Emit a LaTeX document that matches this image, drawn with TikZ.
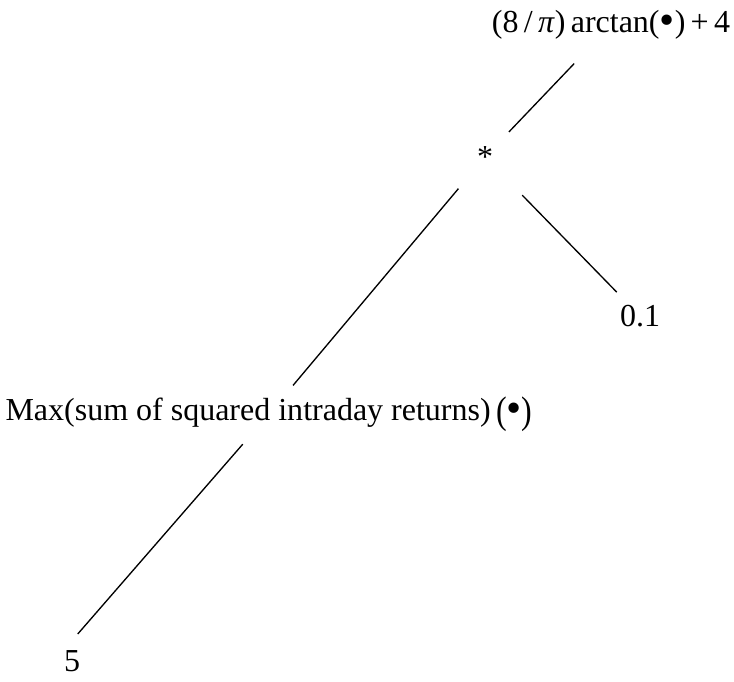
\documentclass[tikz,border=0pt]{standalone}
\usepackage{fontspec}
\setmainfont{Liberation Serif}
\usepackage{graphicx}
\usetikzlibrary{positioning}

\newcommand{\tallparen}[1]{\raisebox{-0.08em}{\scalebox{1}[1.2]{#1}}}
\newcommand{\bigdot}{\raisebox{-0.06em}{\scalebox{1.35}{•}}}

\begin{document}
\begin{tikzpicture}[
					x=0.75pt, y=-0.75pt,
					term/.style={inner sep=0pt, font=\fontsize{24pt}{28pt}\selectfont},
					branch/.style={black, line width=1pt}
				]
				\useasboundingbox (0,0) rectangle (734,681);

				% 1. Root and product
				\node[term] (arctan) at (611,25) {(8\,/\,\textit{π})\,arctan(\bigdot)\,+\,4};
				\node[term] (star) at (485,157) {*};
				\node[term] (tenth) at (640,316) {0.1};

				% 2. Max node and its argument
				\node[term] (maxsq) at (269,414) {Max(sum of squared intraday returns)\,\tallparen{(}\bigdot\tallparen{)}};
				\node[term] (five) at (72,661) {5};

				% Branches
				\draw[branch, shorten <=26pt, shorten >=40pt] (star.center) -- (arctan.center);
				\draw[branch, shorten <=40pt, shorten >=25pt] (star.center) -- (tenth.center);
				\draw[branch, shorten <=31pt, shorten >=28pt] (star.center) -- (maxsq.center);
				\draw[branch, shorten <=30pt, shorten >=16pt] (maxsq.center) -- (five.north west);

			\end{tikzpicture}
\end{document}
